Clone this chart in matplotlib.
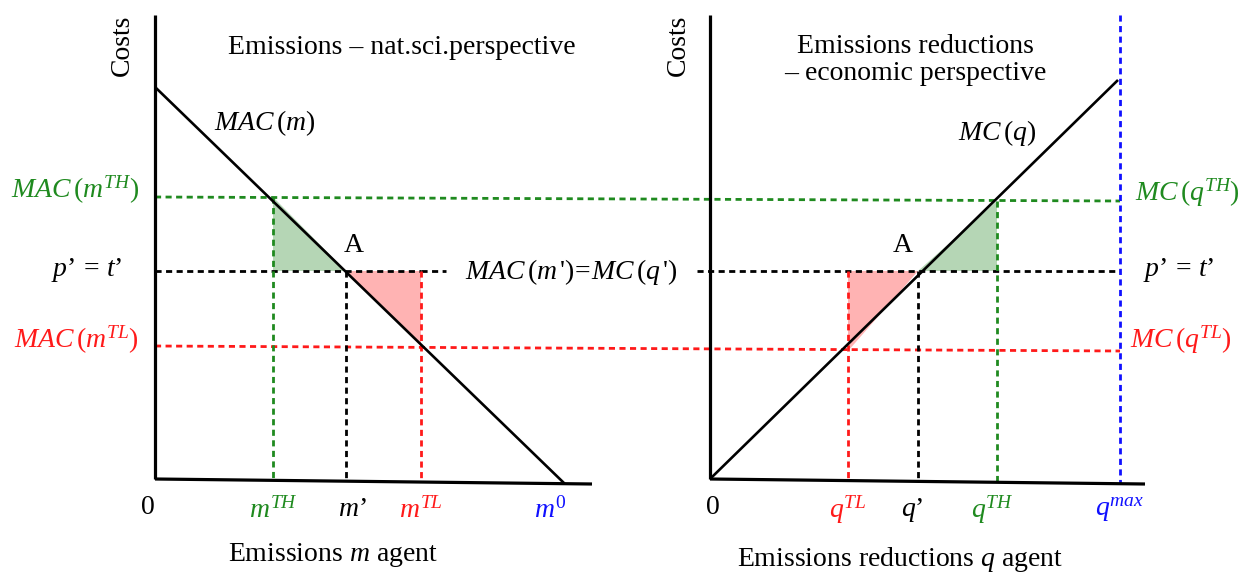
import matplotlib
matplotlib.use("Agg")
from matplotlib import pyplot as plt

plt.rcParams['font.family'] = ['Liberation Serif', 'DejaVu Serif']
plt.rcParams['mathtext.fontset'] = 'custom'
plt.rcParams['mathtext.rm'] = 'Liberation Serif'
plt.rcParams['mathtext.it'] = 'Liberation Serif:italic'

# diagram geometry (figure pixel units, y down)
left_axis_x = 155
right_axis_x = 710
axis_top = 15
axis_bottom = [479, 484]          # bottom line slopes slightly
left_axis_end = 592
right_axis_end = 1145

# MAC(m) and MC(q) curves
mac_x = [155, 565]
mac_y = [87, 484]
mc_x = [710, 1118]
mc_y = [479, 80]

# cost levels: left side, right side
level_TH = [197, 201]
level_p = [271, 271]
level_TL = [346, 351]

# emissions / reductions positions
m_TH, m_p, m_TL = 273, 346, 421
q_TL, q_p, q_TH = 848, 918, 997
q_max = 1120

GREEN = '#1f8a1f'
RED = '#ff1a1a'
BLUE = '#1010ff'

fig = plt.figure(figsize=(12.47, 5.74), dpi=100)
ax = fig.add_axes([0, 0, 1, 1])
ax.set_xlim(0, 1247)
ax.set_ylim(574, 0)
ax.axis('off')

dash = dict(linestyle=(0, (2.2, 1.6)), linewidth=2.0)

# fills
ax.fill([m_TH, m_TH, m_p], [level_TH[0], level_p[0], level_p[0]], color='#b5d6b5', lw=0)
ax.fill([m_p, m_TL, m_TL], [level_p[0], level_p[0], level_TL[0]], color='#ffb3b3', lw=0)
ax.fill([q_p, q_TH, q_TH], [level_p[1], level_p[1], level_TH[1]], color='#b5d6b5', lw=0)
ax.fill([q_TL, q_p, q_TL], [level_p[1], level_p[1], level_TL[1]], color='#ffb3b3', lw=0)

# horizontal dashed levels spanning both panels
ax.plot([left_axis_x, q_max], level_TH, color=GREEN, **dash)
ax.plot([left_axis_x, q_max], level_TL, color=RED, **dash)
ax.plot([left_axis_x, m_TL], [level_p[0]] * 2, color='black', **dash)
ax.plot([m_TL, 446], [level_p[0]] * 2, color='black', **dash)
ax.plot([697, q_max], [level_p[1]] * 2, color='black', **dash)

# vertical dashed lines
ax.plot([m_TH, m_TH], [level_TH[0], 480], color=GREEN, **dash)
ax.plot([m_p, m_p], [level_p[0], 481], color='black', **dash)
ax.plot([m_TL, m_TL], [level_p[0], 482], color=RED, **dash)
ax.plot([q_TL, q_TL], [level_p[1], 480], color=RED, **dash)
ax.plot([q_p, q_p], [level_p[1], 481], color='black', **dash)
ax.plot([q_TH, q_TH], [level_TH[1], 482], color=GREEN, **dash)
ax.plot([q_max, q_max], [axis_top, 484], color=BLUE, **dash)

# curves
ax.plot(mac_x, mac_y, color='black', lw=1.9, solid_capstyle='butt')
ax.plot(mc_x, mc_y, color='black', lw=1.9, solid_capstyle='butt')

# axes
for x0, x1 in [(left_axis_x, left_axis_end), (right_axis_x, right_axis_end)]:
    ax.plot([x0, x0], [axis_top, axis_bottom[0]], color='black', lw=2.3, solid_capstyle='butt')
    ax.plot([x0, x1], axis_bottom, color='black', lw=2.3, solid_capstyle='butt')

fs = 20
# titles
ax.text(402, 48, 'Emissions \u2013 nat.sci.perspective', fontsize=fs, ha='center', va='center')
ax.text(915, 60, 'Emissions reductions\n\u2013 economic perspective', fontsize=fs,
        ha='center', va='center', linespacing=1.1)
ax.text(122, 45, 'Costs', fontsize=fs, rotation=90, ha='center', va='center')
ax.text(678, 45, 'Costs', fontsize=fs, rotation=90, ha='center', va='center')

ax.text(265, 123, r'$MAC\,(m)$', fontsize=fs, ha='center', va='center')
ax.text(997, 133, r'$MC\,(q)$', fontsize=fs, ha='center', va='center')
ax.text(354, 246, 'A', fontsize=fs, ha='center', va='center')
ax.text(903, 246, 'A', fontsize=fs, ha='center', va='center')
ax.text(571, 272, r"$MAC\,(m\,$'$)\!=\!MC\,(q\,$'$)$", fontsize=fs, ha='center', va='center')

# left cost labels
ax.text(139, 190, r'$MAC\,(m^{TH})$', fontsize=fs, ha='right', va='center', color=GREEN)
ax.text(122, 270, r'$p$' + '\u2019' + r'$\,=\,t$' + '\u2019', fontsize=fs, ha='right', va='center')
ax.text(139, 340, r'$MAC\,(m^{TL})$', fontsize=fs, ha='right', va='center', color=RED)

# right cost labels
ax.text(1135, 193, r'$MC\,(q^{TH})$', fontsize=fs, ha='left', va='center', color=GREEN)
ax.text(1143, 270, r'$p$' + '\u2019' + r'$\,=\,t$' + '\u2019', fontsize=fs, ha='left', va='center')
ax.text(1130, 340, r'$MC\,(q^{TL})$', fontsize=fs, ha='left', va='center', color=RED)

# x tick labels
ty = 510
ax.text(148, 507, '0', fontsize=fs, ha='center', va='center')
ax.text(m_TH, ty, r'$m^{TH}$', fontsize=fs, ha='center', va='center', color=GREEN)
ax.text(352, ty, r'$m$' + '\u2019', fontsize=fs, ha='center', va='center')
ax.text(m_TL, ty, r'$m^{TL}$', fontsize=fs, ha='center', va='center', color=RED)
ax.text(550, ty, r'$m^{0}$', fontsize=fs, ha='center', va='center', color=BLUE)
ax.text(713, 507, '0', fontsize=fs, ha='center', va='center')
ax.text(q_TL, ty, r'$q^{TL}$', fontsize=fs, ha='center', va='center', color=RED)
ax.text(912, ty, r'$q$' + '\u2019', fontsize=fs, ha='center', va='center')
ax.text(992, ty, r'$q^{TH}$', fontsize=fs, ha='center', va='center', color=GREEN)
ax.text(q_max, ty, r'$q^{max}$', fontsize=fs, ha='center', va='center', color=BLUE)

ax.text(333, 555, r'Emissions $m$ agent', fontsize=fs, ha='center', va='center')
ax.text(900, 560, r'Emissions reductions $q$ agent', fontsize=fs, ha='center', va='center')

fig.savefig('out.png', dpi=100)
